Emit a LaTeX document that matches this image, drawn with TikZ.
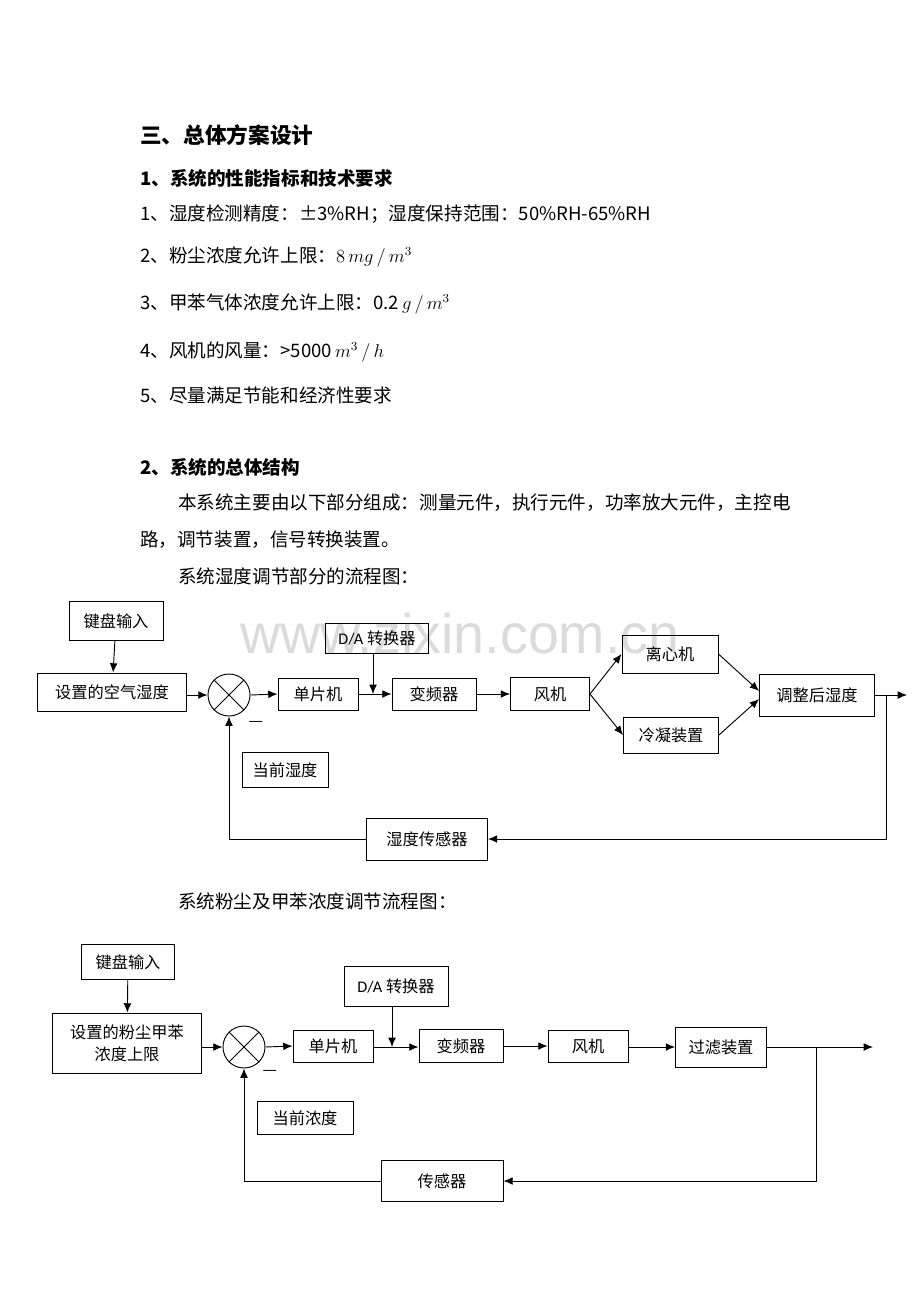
\documentclass[tikz,border=0pt]{standalone}
\usepackage{fontspec}
\setmainfont{Noto Sans CJK SC}
\newfontfamily\lat{Carlito}
\newfontfamily\wmfont{Liberation Sans}
\usetikzlibrary{positioning,arrows.meta}
\newdimen\px \px=0.6467pt

\tikzstyle{block} = [draw,line width=0.6pt,inner sep=0pt,font=\fontsize{10.5}{14}\selectfont]
\tikzstyle{flow} = [draw,line width=0.6pt,->,>={Latex[length=6pt,width=5pt]}]
\tikzstyle{wire} = [draw,line width=0.6pt]
\tikzstyle{mixer} = [draw,circle,line width=0.6pt,minimum size=42\px,inner sep=0pt]
\tikzstyle{body} = [anchor=west,inner sep=0pt,font=\fontsize{12}{14}\selectfont]
\tikzstyle{head} = [anchor=west,inner sep=0pt,font=\fontsize{12}{14}\selectfont\bfseries]
\tikzstyle{minus} = [inner sep=0pt,font=\fontsize{10.5}{12}\selectfont]

\begin{document}
\begin{tikzpicture}[x=0.6467pt,y=-0.6467pt]
\useasboundingbox (0,0) rectangle (920,1302);

% watermark
\node[text=black!14,font=\wmfont\fontsize{36}{40}\selectfont] (wm) at (460,634) {www.zixin.com.cn};

% text
\node[anchor=west,inner sep=0pt,font=\fontsize{14}{16}\selectfont\bfseries] (title) at (140,135) {三、总体方案设计};
\node[head] (h1) at (140,178) {1、系统的性能指标和技术要求};
\node[body] (r1) at (140,214) {1、湿度检测精度：±3\%RH；湿度保持范围：50\%RH-65\%RH};
\node[body] (r2) at (140,257) {2、粉尘浓度允许上限：$8\,mg\,/\,m^{3}$};
\node[body] (r3) at (140,304) {3、甲苯气体浓度允许上限：0.2\,$g\,/\,m^{3}$};
\node[body] (r4) at (140,352) {4、风机的风量：>5000\,$m^{3}\,/\,h$};
\node[body] (r5) at (140,395) {5、尽量满足节能和经济性要求};
\node[head] (h2) at (140,467) {2、系统的总体结构};
\node[body] (p1) at (178,503) {本系统主要由以下部分组成：测量元件，执行元件，功率放大元件，主控电};
\node[body] (p2) at (140,540) {路，调节装置，信号转换装置。};
\node[body] (cap1) at (178,576) {系统湿度调节部分的流程图：};
\node[body] (cap2) at (178,901) {系统粉尘及甲苯浓度调节流程图：};

% humidity loop
\foreach \pos/\name/\w/\h/\txt in {{(116,621)/key1/94/39/键盘输入}, {(112,692)/set1/149/38/设置的空气湿度},
                         {(318,694)/mcu1/80/32/单片机}, {(434,694)/inv1/84/32/变频器},
                         {(550,694)/fan1/79/33/风机}, {(670,654)/cen1/96/38/离心机},
                         {(671,735)/cond1/95/36/冷凝装置}, {(817,695)/out1/115/42/调整后湿度},
                         {(427,839)/sens1/121/42/湿度传感器}, {(285,770)/cur1/86/35/当前湿度}}{
  \node[block,minimum width=\w\px,minimum height=\h\px] (\name) at \pos {\txt};
}
\node[block,minimum width=103\px,minimum height=30\px] (da1) at (377,638) {{\lat D/A} 转换器};
\node[mixer] (sum1) at (229,695) {};
\draw[wire] (sum1.north west) -- (sum1.south east) (sum1.north east) -- (sum1.south west);
\node[minus] (neg1) at (256,724) {—};
\coordinate (j1) at (373,694);
\coordinate (b1) at (886,695);
\coordinate (end1) at (907,695);

\path[flow] (key1) -- (set1);
\path[flow] (set1.east |- sum1.west) -- (sum1.west);
\path[flow] (sum1.east) -- (mcu1.west);
\path[flow] (mcu1) -- (inv1);
\path[flow] (da1.south -| j1) -- (j1);
\path[flow] (inv1) -- (fan1);
\path[flow] (fan1.east) -- (cen1.west);
\path[flow] (fan1.east) -- (cond1.west);
\path[flow] (cen1.east) -- (out1.176);
\path[flow] (cond1.east) -- (out1.184);
\path[flow] (out1.east) -- (end1);
\path[flow] (b1) |- (sens1.east);
\path[flow] (sens1.west) -| (sum1.south);

% dust / toluene loop
\foreach \pos/\name/\w/\h/\txt in {{(128,962)/key2/93/35/键盘输入},
                         {(333,1046)/mcu2/80/32/单片机}, {(461,1046)/inv2/84/33/变频器},
                         {(588,1046)/fan2/80/32/风机}, {(721,1047)/filt2/91/40/过滤装置},
                         {(442,1181)/sens2/122/41/传感器}, {(305,1118)/cur2/96/33/当前浓度}}{
  \node[block,minimum width=\w\px,minimum height=\h\px] (\name) at \pos {\txt};
}
\node[block,minimum width=149\px,minimum height=60\px,align=center] (set2) at (127,1043) {设置的粉尘甲苯\\浓度上限};
\node[block,minimum width=104\px,minimum height=40\px] (da2) at (396,986) {{\lat D/A} 转换器};
\node[mixer] (sum2) at (244,1047) {};
\draw[wire] (sum2.north west) -- (sum2.south east) (sum2.north east) -- (sum2.south west);
\node[minus] (neg2) at (270,1073) {—};
\coordinate (j2) at (392,1047);
\coordinate (b2) at (816,1047);
\coordinate (end2) at (873,1047);

\path[flow] (key2) -- (set2);
\path[flow] (set2.east |- sum2.west) -- (sum2.west);
\path[flow] (sum2.east) -- (mcu2.west);
\path[flow] (mcu2.east |- j2) -- (inv2.west |- j2);
\path[flow] (da2.south -| j2) -- (j2);
\path[flow] (inv2.east |- fan2.west) -- (fan2.west);
\path[flow] (fan2.east |- filt2.west) -- (filt2.west);
\path[flow] (filt2.east) -- (end2);
\path[flow] (b2) |- (sens2.east);
\path[flow] (sens2.west) -| (sum2.south);
\end{tikzpicture}
\end{document}
